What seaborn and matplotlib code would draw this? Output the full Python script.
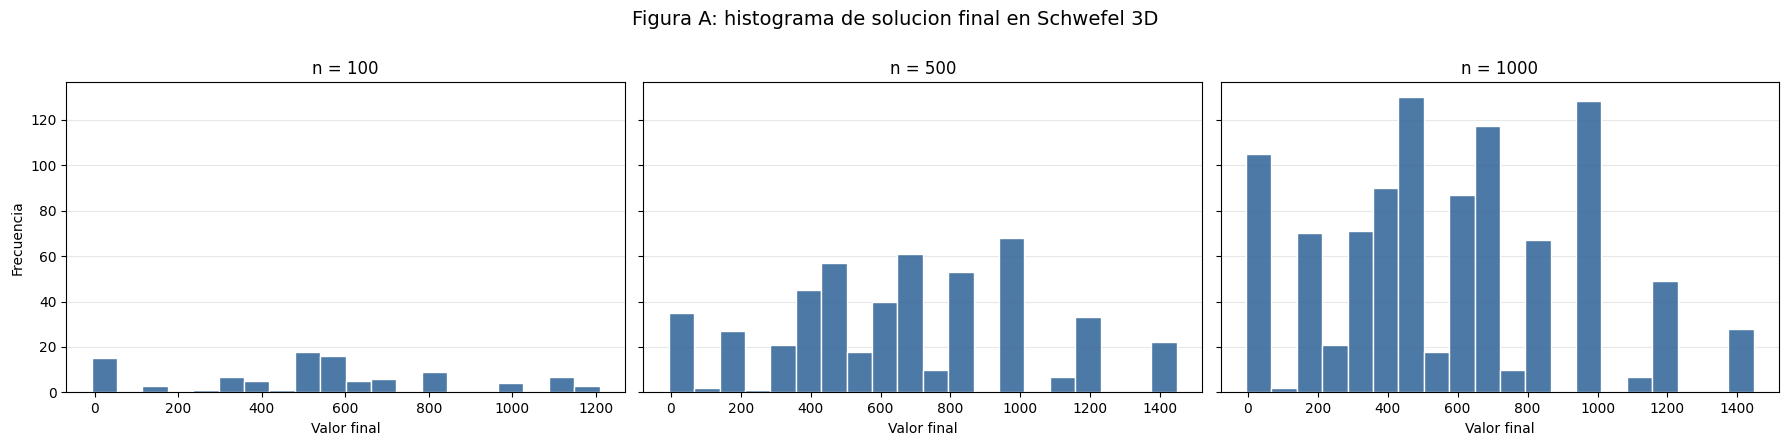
import matplotlib.pyplot as plt
import numpy as np
import pandas as pd
import seaborn as sns

# histogram counts (20 bins per panel)
panel_titles = ["n = 100", "n = 500", "n = 1000"]
counts_100 = [15, 0, 3, 0, 1, 7, 5, 1, 18, 16, 5, 6, 0, 9, 0, 0, 4, 0, 7, 3]
counts_500 = [35, 2, 27, 1, 21, 45, 57, 18, 40, 61, 10, 53, 0, 68, 0, 7, 33, 0, 0, 22]
counts_1000 = [105, 2, 70, 21, 71, 90, 130, 18, 87, 117, 10, 67, 0, 128, 0, 7, 49, 0, 0, 28]
# min / max of the final values in each run
range_100 = (-7.0, 1209.0)
range_500 = (-5.5, 1447.0)
range_1000 = (-5.5, 1447.0)

panels = [
    (panel_titles[0], counts_100, range_100),
    (panel_titles[1], counts_500, range_500),
    (panel_titles[2], counts_1000, range_1000),
]

fig, axes = plt.subplots(1, 3, figsize=(17.9, 4.46), dpi=100, sharey=True)

for ax, (title, counts, (lo, hi)) in zip(axes, panels):
    edges = np.linspace(lo, hi, len(counts) + 1)
    df = pd.DataFrame({
        "valor": (edges[:-1] + edges[1:]) / 2,
        "frecuencia": counts,
    })
    sns.histplot(data=df, x="valor", weights="frecuencia", bins=list(edges), ax=ax,
                 color="#3A6A9D", alpha=0.9, edgecolor="white", linewidth=1)
    ax.set_title(title, fontsize=12)
    ax.set_xlabel("Valor final")
    ax.set_ylabel("")
    ax.grid(axis="y", alpha=0.3)
    ax.set_axisbelow(True)

axes[0].set_ylabel("Frecuencia")
axes[0].set_yticks(range(0, 121, 20))

fig.suptitle("Figura A: histograma de solucion final en Schwefel 3D", fontsize=14, y=0.978)
fig.subplots_adjust(left=0.037, right=0.994, top=0.816, bottom=0.12, wspace=0.033)
plt.savefig("out.png")
